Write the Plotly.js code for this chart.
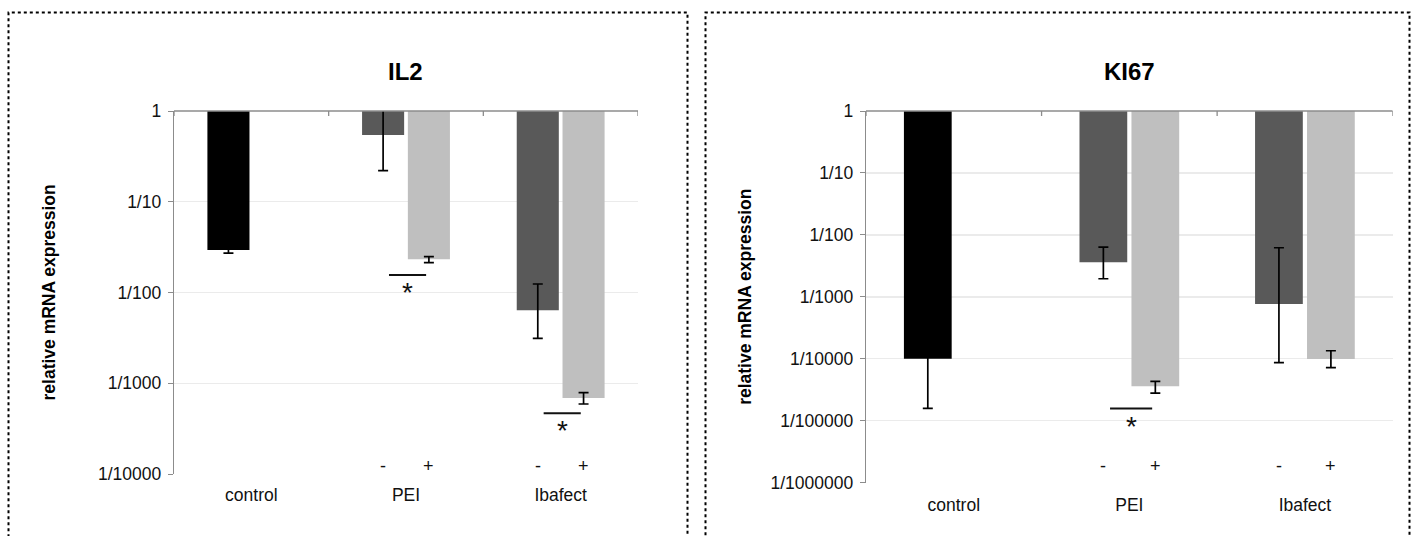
<!DOCTYPE html>
<html><head><meta charset="utf-8">
<script src="https://cdn.plot.ly/plotly-3.0.1.min.js"></script>
<style>html,body{margin:0;padding:0;background:#fff}#chart{width:1414px;height:536px}</style>
</head><body><div id="chart"></div>
<script>
// ---------- data ----------
const categories = ['control', 'PEI', 'Ibafect'];
const signLabels = ['-', '+'];
const signCats = [1, 2];

const il2TickVals = [1, 0.1, 0.01, 0.001, 0.0001];
const il2TickText = ['1', '1/10', '1/100', '1/1000', '1/10000'];
const ki67TickVals = [1, 0.1, 0.01, 0.001, 0.0001, 0.00001, 0.000001];
const ki67TickText = ['1', '1/10', '1/100', '1/1000', '1/10000', '1/100000', '1/1000000'];

// IL2 : "-" series (control, PEI -, Ibafect -) and "+" series (PEI +, Ibafect +)
const il2Minus   = [0.0294, 0.544, 0.00637];
const il2MinusHi = [0.0318, 1.35, 0.0124];
const il2MinusLo = [0.0272, 0.22, 0.00313];
const il2Plus    = [null, 0.0232, 0.000687];
const il2PlusHi  = [null, 0.0248, 0.000787];
const il2PlusLo  = [null, 0.0213, 0.000591];
const il2SigCat   = [1, 2];
const il2SigLevel = [0.0156, 0.000467];
const il2SignLevel = 0.000123;

// KI67
const ki67Minus   = [0.0001, 0.00363, 0.00077];
const ki67MinusHi = [0.00063, 0.00637, 0.0062];
const ki67MinusLo = [0.0000158, 0.00196, 0.000087];
const ki67Plus    = [null, 0.0000359, 0.000099];
const ki67PlusHi  = [null, 0.0000433, 0.000135];
const ki67PlusLo  = [null, 0.000028, 0.000072];
const ki67SigCat   = [1];
const ki67SigLevel = [0.0000157];
const ki67SignLevel = 0.00000186;

// ---------- styling ----------
const W = 1414, H = 536;
const FONT = 'Liberation Sans, Arial, sans-serif';
const minusColors = ['#000000', '#595959', '#595959'];
const plusColor = '#bfbfbf';
const axisGrey = '#8c8c8c';
const BAR_W = 0.272, OFF_MINUS = -0.284, OFF_PLUS = 0.012;

const traces = [];
const shapes = [];
const annotations = [];
const layout = {
  width: W, height: H, margin: {l: 0, r: 0, t: 0, b: 0},
  paper_bgcolor: '#fff', plot_bgcolor: '#fff',
  showlegend: false, barmode: 'overlay',
  font: {family: FONT, color: '#111'}
};

function errs(v, hi, lo) {
  return {
    type: 'data', symmetric: false, visible: true,
    array: v.map((x, i) => x == null ? null : hi[i] - x),
    arrayminus: v.map((x, i) => x == null ? null : x - lo[i]),
    color: '#000', thickness: 1.7, width: 5
  };
}

function panel(p) {
  const xa = p.k === 1 ? 'x' : 'x' + p.k;
  const ya = p.k === 1 ? 'y' : 'y' + p.k;
  const xl = p.k === 1 ? 'xaxis' : 'xaxis' + p.k;
  const yl = p.k === 1 ? 'yaxis' : 'yaxis' + p.k;
  const xs = categories.map((_, i) => i);

  traces.push({
    type: 'bar', x: xs, base: 1, y: p.minus.map(v => v == null ? null : v - 1),
    xaxis: xa, yaxis: ya, width: BAR_W, offset: OFF_MINUS,
    marker: {color: minusColors, line: {width: 0}},
    error_y: errs(p.minus, p.minusHi, p.minusLo), hoverinfo: 'skip'
  });
  traces.push({
    type: 'bar', x: xs, base: 1, y: p.plus.map(v => v == null ? null : v - 1),
    xaxis: xa, yaxis: ya, width: BAR_W, offset: OFF_PLUS,
    marker: {color: plusColor, line: {width: 0}},
    error_y: errs(p.plus, p.plusHi, p.plusLo), hoverinfo: 'skip'
  });

  // significance lines
  const sx = [], sy = [];
  p.sigCat.forEach((c, i) => { sx.push(c - 0.11, c + 0.13, null); sy.push(p.sigLevel[i], p.sigLevel[i], null); });
  traces.push({type: 'scatter', mode: 'lines', x: sx, y: sy, xaxis: xa, yaxis: ya,
    line: {color: '#111', width: 2}, hoverinfo: 'skip', cliponaxis: false});
  p.sigCat.forEach((c, i) => annotations.push({
    xref: xa, yref: ya, x: c + 0.01, y: Math.log10(p.sigLevel[i]), text: '*',
    showarrow: false, yanchor: 'top', yshift: 0, font: {family: FONT, size: 28, color: '#111'}
  }));

  // - / + labels
  signCats.forEach(c => {
    [OFF_MINUS + BAR_W / 2, OFF_PLUS + BAR_W / 2].forEach((o, j) => annotations.push({
      xref: xa, yref: ya, x: c + o, y: Math.log10(p.signLevel), text: signLabels[j],
      showarrow: false, xanchor: 'center', yanchor: 'middle', font: {family: FONT, size: 18, color: '#111'}
    }));
  });

  layout[xl] = {
    domain: [p.x0 / W, p.x1 / W], anchor: ya, range: [-0.5, categories.length - 0.5],
    tickvals: xs, ticktext: categories, ticks: '', showline: false, showgrid: false, zeroline: false,
    tickfont: {family: FONT, size: 17.5, color: '#111'}, ticklabelstandoff: p.xStand, fixedrange: true
  };
  layout[yl] = {
    domain: [1 - p.y1 / H, 1 - p.y0 / H], anchor: xa, type: 'log', range: p.yRange,
    tickvals: p.tickVals, ticktext: p.tickText, showgrid: true, gridcolor: '#ebebeb', gridwidth: 1.3,
    showline: true, linecolor: axisGrey, linewidth: 1.3, ticks: 'outside', ticklen: 5, tickcolor: axisGrey,
    tickfont: {family: FONT, size: 17.5, color: '#111'}, ticklabelstandoff: 3, zeroline: false, fixedrange: true
  };

  // top category axis line with boundary ticks
  shapes.push({type: 'line', xref: xa, yref: ya + ' domain', x0: -0.5, x1: categories.length - 0.5, y0: 1, y1: 1,
    line: {color: axisGrey, width: 1.3}});
  for (let i = 0; i <= categories.length; i++) {
    shapes.push({type: 'line', xref: xa, yref: ya + ' domain', ysizemode: 'pixel', yanchor: 1,
      x0: i - 0.5, x1: i - 0.5, y0: 0, y1: -5, line: {color: axisGrey, width: 1.3}});
  }

  // panel title and y title
  annotations.push({xref: 'paper', yref: 'paper', x: (p.x0 + p.x1) / 2 / W, y: 1 - 72 / H, text: p.title,
    showarrow: false, xanchor: 'center', yanchor: 'middle', font: {family: FONT, size: 24, weight: 'bold', color: '#000'}});
  annotations.push({xref: 'paper', yref: 'paper', x: p.ytx / W, y: 1 - (p.y0 + p.y1) / 2 / H,
    text: 'relative mRNA expression', textangle: -90, showarrow: false, xanchor: 'center', yanchor: 'middle',
    font: {family: FONT, size: 17.5, weight: 'bold', color: '#000'}});

  // dotted panel border
  shapes.push({type: 'rect', xref: 'paper', yref: 'paper', x0: p.bx0 / W, x1: p.bx1 / W, y0: -0.05, y1: 1 - 12.5 / H,
    line: {color: '#000', width: 2, dash: 'dot'}});
}

panel({k: 1, title: 'IL2', minus: il2Minus, minusHi: il2MinusHi, minusLo: il2MinusLo,
  plus: il2Plus, plusHi: il2PlusHi, plusLo: il2PlusLo, sigCat: il2SigCat, sigLevel: il2SigLevel,
  signLevel: il2SignLevel, tickVals: il2TickVals, tickText: il2TickText, yRange: [-4, 0],
  x0: 174, x1: 638, y0: 111, y1: 474, ytx: 48, bx0: 8.5, bx1: 687.5, xStand: 8});

panel({k: 2, title: 'KI67', minus: ki67Minus, minusHi: ki67MinusHi, minusLo: ki67MinusLo,
  plus: ki67Plus, plusHi: ki67PlusHi, plusLo: ki67PlusLo, sigCat: ki67SigCat, sigLevel: ki67SigLevel,
  signLevel: ki67SignLevel, tickVals: ki67TickVals, tickText: ki67TickText, yRange: [-6, 0],
  x0: 866, x1: 1392.7, y0: 111, y1: 482.7, ytx: 745, bx0: 705.5, bx1: 1409.5, xStand: 10});

layout.shapes = shapes;
layout.annotations = annotations;
Plotly.newPlot('chart', traces, layout, {staticPlot: true, displayModeBar: false});
</script>
</body></html>
